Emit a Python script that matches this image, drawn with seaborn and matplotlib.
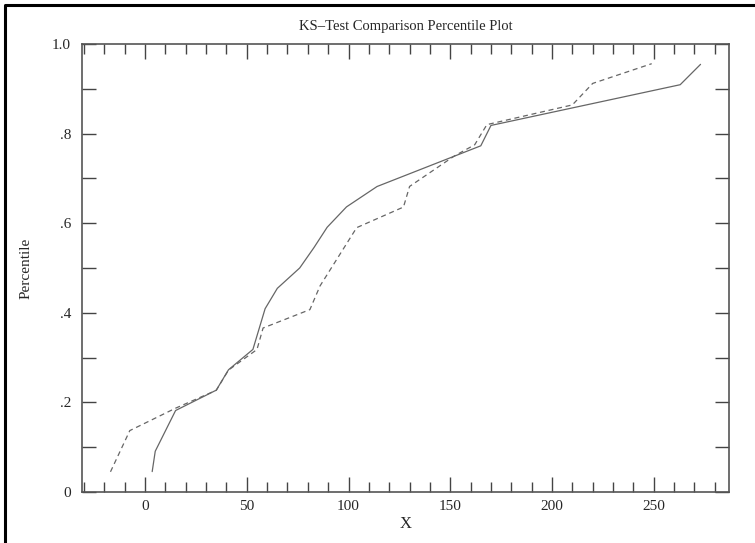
import matplotlib
matplotlib.use("Agg")
import matplotlib.pyplot as plt
from matplotlib.lines import Line2D
from matplotlib.ticker import MultipleLocator, FixedLocator, FixedFormatter
import seaborn as sns
import pandas as pd
import numpy as np

# data
x_set1 = [3.5, 5, 15, 35, 41, 53, 59, 65, 76, 83, 89.5, 99, 114, 165, 170, 263, 273]
p_set1 = [1, 2, 4, 5, 6, 7, 9, 10, 11, 12, 13, 14, 15, 17, 18, 20, 21]

x_set2 = [-17, -7.5, 15, 35, 41, 55, 58, 81, 86, 104, 127, 130, 152, 162, 168, 210, 220, 249]
p_set2 = [0.045, 0.137, 0.187, 0.227, 0.272, 0.318, 0.366, 0.407, 0.46, 0.59,
          0.636, 0.682, 0.75, 0.775, 0.82, 0.864, 0.912, 0.956]

y_ticks = [0, 0.2, 0.4, 0.6, 0.8, 1.0]
y_labels = ['0', '.2', '.4', '.6', '.8', '1.0']

df = pd.concat([
    pd.DataFrame({'X': x_set1, 'Percentile': np.array(p_set1) / 22, 'set': 'one'}),
    pd.DataFrame({'X': x_set2, 'Percentile': p_set2, 'set': 'two'}),
])

sns.set_style('white')
plt.rcParams['font.family'] = ['Liberation Serif', 'DejaVu Serif']

fig = plt.figure(figsize=(7.55, 5.43), dpi=100)
ax = fig.add_axes([0.1086, 0.094, 0.857, 0.825])

sns.lineplot(data=df, x='X', y='Percentile', style='set', dashes={'one': '', 'two': (4, 3)},
             color='#666666', linewidth=0.9, estimator=None, sort=False, legend=False, ax=ax)

ax.set_xlim(-31, 287)
ax.set_ylim(0, 1.0)

ax.xaxis.set_major_locator(MultipleLocator(50))
ax.xaxis.set_minor_locator(MultipleLocator(10))
ax.yaxis.set_major_locator(FixedLocator(y_ticks))
ax.yaxis.set_major_formatter(FixedFormatter(y_labels))
ax.yaxis.set_minor_locator(MultipleLocator(0.1))

ax.tick_params(axis='x', which='major', direction='in', length=11, width=1.0,
               top=True, bottom=True, color='#444444', labelsize=11, pad=6)
ax.tick_params(axis='x', which='minor', direction='in', length=7, width=1.0,
               top=True, bottom=True, color='#444444')
ax.tick_params(axis='y', which='both', direction='in', length=10, width=1.0,
               left=True, right=True, color='#444444', labelsize=11, pad=8)

for s in ax.spines.values():
    s.set_color('#555555')
    s.set_linewidth(1.2)

ax.set_title('KS\u2013Test Comparison Percentile Plot', fontsize=10.5, pad=10)
ax.set_xlabel('X', fontsize=12, labelpad=2)
ax.set_ylabel('Percentile', fontsize=11, labelpad=14)

# black border on the top and left of the picture
fig.lines.append(Line2D([0.006, 0.006, 1.0], [0.0, 0.991, 0.991], transform=fig.transFigure,
                        color='black', linewidth=2.2))

fig.savefig('out.png', dpi=100)
